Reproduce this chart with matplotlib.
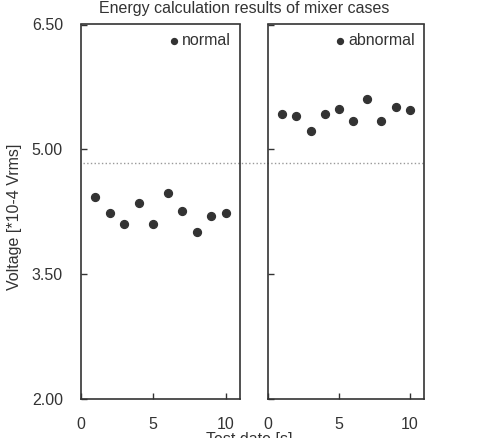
import matplotlib
matplotlib.use("Agg")
import matplotlib.pyplot as plt
from matplotlib.transforms import blended_transform_factory

plt.rcParams['font.family'] = ['Liberation Sans', 'DejaVu Sans']

# Data
test_days = [1, 2, 3, 4, 5, 6, 7, 8, 9, 10]
normal_vals = [4.43, 4.24, 4.10, 4.35, 4.10, 4.47, 4.26, 4.01, 4.20, 4.23]
abnormal_vals = [5.42, 5.40, 5.22, 5.42, 5.49, 5.34, 5.61, 5.34, 5.51, 5.47]
threshold = 4.835
y_ticks = [2.00, 3.50, 5.00, 6.50]
x_ticks = [0, 5, 10]
title = "Energy calculation results of mixer cases"
xlabel = "Test date [s]"
ylabel = "Voltage [*10-4 Vrms]"

W, H = 484, 438
fig = plt.figure(figsize=(W / 100, H / 100), dpi=100)

def box(x0, x1, y0, y1):
    return [x0 / W, 1 - y1 / H, (x1 - x0) / W, (y1 - y0) / H]

ax1 = fig.add_axes(box(81, 240, 24.5, 399))
ax2 = fig.add_axes(box(268, 424, 24.5, 399))

fs = 11.5
dark = '#333333'
for ax, vals, lab in [(ax1, normal_vals, 'normal'), (ax2, abnormal_vals, 'abnormal')]:
    ax.patch.set_alpha(0)
    ax.scatter(test_days, vals, s=32, color=dark, label=lab, zorder=3)
    ax.set_xlim(0, 11)
    ax.set_ylim(2.0, 6.5)
    ax.set_xticks(x_ticks)
    ax.set_yticks(y_ticks)
    ax.tick_params(direction='in', length=4, width=1, color=dark,
                   labelcolor=dark, labelsize=fs, pad=13)
    for sp in ax.spines.values():
        sp.set_color(dark)
        sp.set_linewidth(1.2)
    ax.legend(loc='upper right', frameon=False, handletextpad=0.05,
              markerscale=0.75, fontsize=fs, borderaxespad=0.15,
              handlelength=1.0, labelcolor=dark)

ax1.set_yticklabels([f"{v:.2f}" for v in y_ticks])
ax2.set_yticklabels([])

# threshold line spanning both panels
tr = blended_transform_factory(fig.transFigure, ax1.transData)
x_start = 83 / W
x_end = 424 / W
ax1.plot([x_start, x_end], [threshold, threshold], transform=tr,
         linestyle=':', color='#999999', linewidth=1, clip_on=False, zorder=1)

fig.text(0.505, 1 - 8 / H, title, ha='center', va='center', fontsize=fs, color=dark)
fig.text(249 / W, 1 - 432 / H, xlabel, ha='center', va='top', fontsize=fs, color=dark)
fig.text(15 / W, 1 - 217 / H, ylabel, ha='center', va='center', rotation=90,
         fontsize=fs, color=dark)

fig.savefig("out.png", dpi=100)
